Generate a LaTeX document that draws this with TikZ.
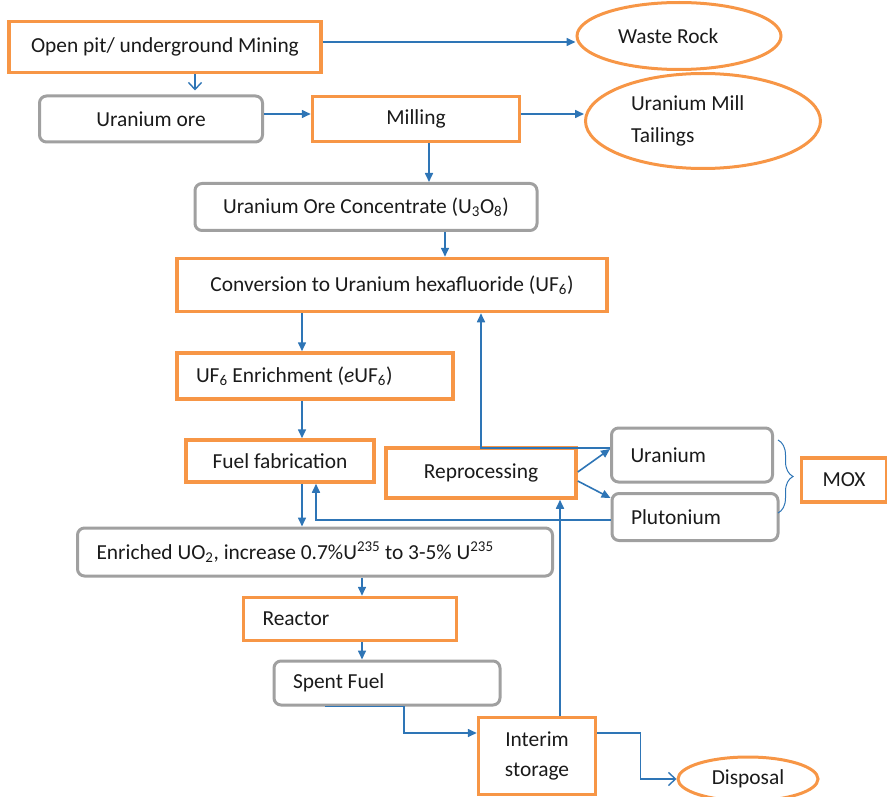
\documentclass[tikz,border=0pt]{standalone}
\usepackage{fontspec}
\setmainfont{Carlito}
\usepackage{tikz}
\usetikzlibrary{arrows.meta, positioning, shapes.geometric, decorations.pathreplacing}
\definecolor{boxorange}{HTML}{F79646}
\definecolor{boxgray}{HTML}{A0A0A0}
\definecolor{flowblue}{HTML}{2E75B6}
\definecolor{textdark}{HTML}{1A1A1A}

\begin{document}
\begin{tikzpicture}[x=1pt, y=-1pt,
    every node/.style={font=\fontsize{21.4}{26}\selectfont, text=textdark},
    process/.style={draw=boxorange, line width=3.5pt, inner sep=0pt, align=center},
    product/.style={draw=boxgray, line width=3pt, rounded corners=7pt,
                    inner sep=0pt, align=center},
    waste/.style={draw=boxorange, line width=3pt, ellipse, inner sep=0pt,
                  align=center},
    leftpad/.style={align=flush left, inner xsep=19pt, inner ysep=0pt},
    flow/.style={draw=flowblue, line width=1.6pt,
                 -{Triangle[length=9pt,width=8pt]}},
    openflow/.style={draw=flowblue, line width=1.4pt,
                     -{Straight Barb[length=7pt,width=13pt]}},
    brc/.style={draw=flowblue, line width=1pt, decorate,
                decoration={brace, amplitude=15pt}}
  ]
    \useasboundingbox (0,0) rectangle (887,797);

    % Mining and milling
    \node[process, minimum width=312pt, minimum height=51pt] (mine) at (165,47)
      {Open pit/ underground Mining};
    \node[waste, minimum width=204pt, minimum height=67pt, text width=122pt,
          align=flush left] (rock) at (679,36) {Waste Rock};
    \node[product, minimum width=223pt, minimum height=46pt] (ore) at (151,119)
      {Uranium ore};
    \node[process, minimum width=207pt, minimum height=45pt] (mill) at (416,119)
      {Milling};
    \node[waste, minimum width=235pt, minimum height=95pt, text width=144pt,
          align=flush left, font=\fontsize{21.4}{32}\selectfont] (tail)
      at (703,121) {Uranium Mill\\Tailings};

    % Front end
    \node[product, minimum width=342pt, minimum height=47pt] (uoc) at (366,207)
      {Uranium Ore Concentrate (U\textsubscript{3}O\textsubscript{8})};
    \node[process, minimum width=430pt, minimum height=53pt] (conv) at (392,285)
      {Conversion to Uranium hexafluoride (UF\textsubscript{6})};
    \node[process, leftpad, text width=238pt, minimum height=46pt] (enrich)
      at (315,376) {UF\textsubscript{6} Enrichment (\textit{e}UF\textsubscript{6})};
    \node[process, minimum width=188pt, minimum height=42pt] (fab) at (280,461)
      {Fuel fabrication};

    % Reprocessing loop
    \node[process, minimum width=190pt, minimum height=50pt] (repro) at (481,473)
      {Reprocessing};
    \node[product, leftpad, text width=123pt, minimum height=54pt] (uran)
      at (692,455) {Uranium};
    \node[product, leftpad, text width=128pt, minimum height=47pt] (pluto)
      at (695,517) {Plutonium};
    \node[process, minimum width=85pt, minimum height=44pt] (mox) at (844,480)
      {MOX};
    \coordinate (brc-top) at (778,440);
    \coordinate (brc-bot) at (778,513);

    % Reactor and back end
    \node[product, leftpad, text width=437pt, minimum height=48pt] (euo)
      at (315,552) {Enriched UO\textsubscript{2}, increase
      0.7\%U\textsuperscript{235} to 3-5\% U\textsuperscript{235}};
    \node[process, leftpad, text width=175pt, minimum height=43pt] (reactor)
      at (350,619) {Reactor};
    \node[product, leftpad, text width=188pt, minimum height=44pt] (spent)
      at (387,683) {Spent Fuel};
    \node[process, minimum width=117pt, minimum height=77pt,
          font=\fontsize{21.4}{30}\selectfont] (store) at (537,756)
      {Interim\\storage};
    \node[waste, minimum width=140pt, minimum height=44pt] (disp) at (748,779)
      {Disposal};

    % Connections
    \draw[flow] ([yshift=5pt]mine.east) -- ([yshift=5pt]mine.east -| rock.west);
    \draw[openflow, shorten >=4pt] ([xshift=30pt]mine.south)
      -- ([xshift=30pt]mine.south |- ore.north);
    \draw[flow] ([yshift=5pt]ore.east) -- ([yshift=5pt]ore.east -| mill.west);
    \draw[flow] ([yshift=5pt]mill.east) -- ([yshift=5pt]mill.east -| tail.west);
    \draw[flow] ([xshift=13pt]mill.south) -- ([xshift=13pt]mill.south |- uoc.north);
    \draw[flow] ([xshift=79pt]uoc.south) -- ([xshift=79pt]uoc.south |- conv.north);
    \draw[flow] ([xshift=-90pt]conv.south) -- ([xshift=-90pt]conv.south |- enrich.north);
    \draw[flow] ([xshift=-13pt]enrich.south) -- ([xshift=-13pt]enrich.south |- fab.north);
    \draw[flow] ([xshift=22pt]fab.south) -- ([xshift=22pt]fab.south |- euo.north);
    \draw[flow] ([xshift=47pt]euo.south) -- ([xshift=47pt]euo.south |- reactor.north);
    \draw[flow] ([xshift=12pt]reactor.south) -- ([xshift=12pt]reactor.south |- spent.north);

    % Recycling paths
    \draw[flow] ([yshift=-3pt]pluto.west) -| ([xshift=36pt]fab.south);
    \draw[flow] ([yshift=7pt]uran.west) -| ([xshift=89pt]conv.south);
    \draw[flow] ([yshift=1pt]repro.east) -- ([yshift=6pt]uran.west);
    \draw[flow] ([yshift=-8pt]repro.east) -- ([yshift=19pt]pluto.west);
    \draw[brc] (brc-top) -- (brc-bot);

    % Back end paths
    \draw[flow] ([xshift=-62pt]spent.south) -- ++(79,0)
      |- ([yshift=23pt]store.west);
    \draw[flow] ([xshift=23pt]store.north) -- ([xshift=79pt]repro.south);
    \draw[openflow] ([yshift=23pt]store.east) -- ++(43,0) |- (disp.west);
  \end{tikzpicture}
\end{document}
